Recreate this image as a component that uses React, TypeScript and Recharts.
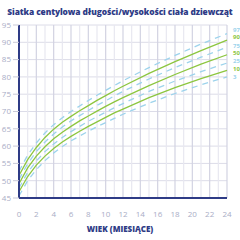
import { LineChart, Line, XAxis, YAxis, CartesianGrid, ReferenceLine } from "recharts";

const months = [0, 1, 2, 3, 4, 5, 6, 7, 8, 9, 10, 11, 12, 15, 18, 21, 24];
const p3 = [45.6, 50.0, 53.2, 55.8, 58.0, 59.9, 61.5, 62.9, 64.3, 65.6, 66.8, 68.0, 69.2, 72.4, 75.2, 77.7, 80.0];
const p10 = [46.8, 51.2, 54.5, 57.1, 59.3, 61.2, 62.8, 64.3, 65.7, 67.0, 68.3, 69.6, 70.7, 74.0, 76.9, 79.5, 81.9];
const p25 = [47.9, 52.4, 55.7, 58.4, 60.6, 62.5, 64.2, 65.7, 67.2, 68.5, 69.8, 71.1, 72.3, 75.8, 78.8, 81.5, 84.0];
const p50 = [49.1, 53.7, 57.1, 59.8, 62.1, 64.0, 65.7, 67.3, 68.7, 70.1, 71.5, 72.8, 74.0, 77.5, 80.7, 83.7, 86.4];
const p75 = [50.4, 54.9, 58.4, 61.2, 63.5, 65.5, 67.3, 68.8, 70.3, 71.8, 73.1, 74.5, 75.8, 79.4, 82.7, 85.7, 88.6];
const p90 = [51.5, 56.1, 59.6, 62.5, 64.9, 66.9, 68.6, 70.2, 71.7, 73.2, 74.6, 76.0, 77.3, 81.0, 84.4, 87.6, 90.6];
const p97 = [52.7, 57.4, 60.9, 63.8, 66.2, 68.2, 70.0, 71.6, 73.2, 74.7, 76.1, 77.5, 78.9, 82.7, 86.2, 89.5, 92.5];

const monthTicks = Array.from({ length: 25 }, (_, i) => i);
const cmTicks = [45, 50, 55, 60, 65, 70, 75, 80, 85, 90, 95];

const BLUE = "#9dd3ec";
const GREEN = "#8dc63f";
const NAVY = "#2e3b86";

const series = [
  { key: "p97", label: "97", values: p97, color: BLUE, dashed: true, shift: -4 },
  { key: "p90", label: "90", values: p90, color: GREEN, dashed: false, shift: -3 },
  { key: "p75", label: "75", values: p75, color: BLUE, dashed: true, shift: -1.6 },
  { key: "p50", label: "50", values: p50, color: GREEN, dashed: false, shift: -1.3 },
  { key: "p25", label: "25", values: p25, color: BLUE, dashed: true, shift: -2.5 },
  { key: "p10", label: "10", values: p10, color: GREEN, dashed: false, shift: -1 },
  { key: "p3", label: "3", values: p3, color: BLUE, dashed: true, shift: 0 },
];

const data = months.map((m, i) => {
  const row: Record<string, number> = { month: m };
  series.forEach((s) => (row[s.key] = s.values[i]));
  return row;
});

const endLabel = (text: string, color: string, shift: number) => (props: any) => {
  const { x, y, index } = props;
  if (index !== months.length - 1) return null;
  return (
    <text
      x={x + 6}
      y={y + shift}
      fill={color}
      fontSize={6}
      fontWeight={700}
      dominantBaseline="central"
      fontFamily="Open Sans, sans-serif"
    >
      {text}
    </text>
  );
};

export default function App() {
  return (
    <div style={{ position: "absolute", left: 0, top: 0, width: 240, height: 240, background: "#fff" }}>
      <div
        style={{
          position: "absolute",
          top: 6,
          left: 0,
          width: 240,
          textAlign: "center",
          fontFamily: "Open Sans, sans-serif",
          fontWeight: 800,
          fontSize: 8.4,
          color: NAVY,
          letterSpacing: -0.1,
          whiteSpace: "nowrap",
        }}
      >
        Siatka centylowa długości/wysokości ciała dziewcząt
      </div>
      <LineChart width={240} height={240} data={data} margin={{ top: 25, right: 13, bottom: 6, left: 0 }}>
        <CartesianGrid vertical={false} stroke="#dcdce8" strokeWidth={1} />
        {monthTicks.map((m) => (
          <ReferenceLine key={m} x={m} stroke={m % 2 === 0 ? "#d2d3e2" : "#e8e8f0"} strokeWidth={1.2} />
        ))}
        <XAxis
          dataKey="month"
          type="number"
          domain={[0, 24]}
          ticks={monthTicks}
          interval={0}
          tickFormatter={(v: number) => (v % 2 === 0 ? String(v) : "")}
          tick={{ fill: "#a9adc6", fontSize: 8, fontFamily: "Open Sans, sans-serif" }}
          tickLine={false}
          tickMargin={7}
          height={36}
          axisLine={{ stroke: NAVY, strokeWidth: 2 }}
          label={{
            value: "WIEK (MIESIĄCE)",
            position: "insideBottom",
            offset: 2,
            dx: -3,
            fill: NAVY,
            fontSize: 8,
            fontWeight: 800,
            fontFamily: "Open Sans, sans-serif",
          }}
        />
        <YAxis
          type="number"
          domain={[45, 95]}
          ticks={cmTicks}
          interval={0}
          width={19}
          tick={{ fill: "#a9adc6", fontSize: 8, fontFamily: "Open Sans, sans-serif" }}
          tickLine={{ stroke: "#c8c9d8" }}
          tickSize={6}
          tickMargin={2}
          axisLine={{ stroke: NAVY, strokeWidth: 2 }}
        />
        {series.map((s) => (
          <Line
            key={s.key}
            dataKey={s.key}
            type="linear"
            stroke={s.color}
            strokeWidth={1.3}
            strokeDasharray={s.dashed ? "6 5" : undefined}
            dot={false}
            isAnimationActive={false}
            label={endLabel(s.label, s.color, s.shift)}
          />
        ))}
      </LineChart>
    </div>
  );
}
